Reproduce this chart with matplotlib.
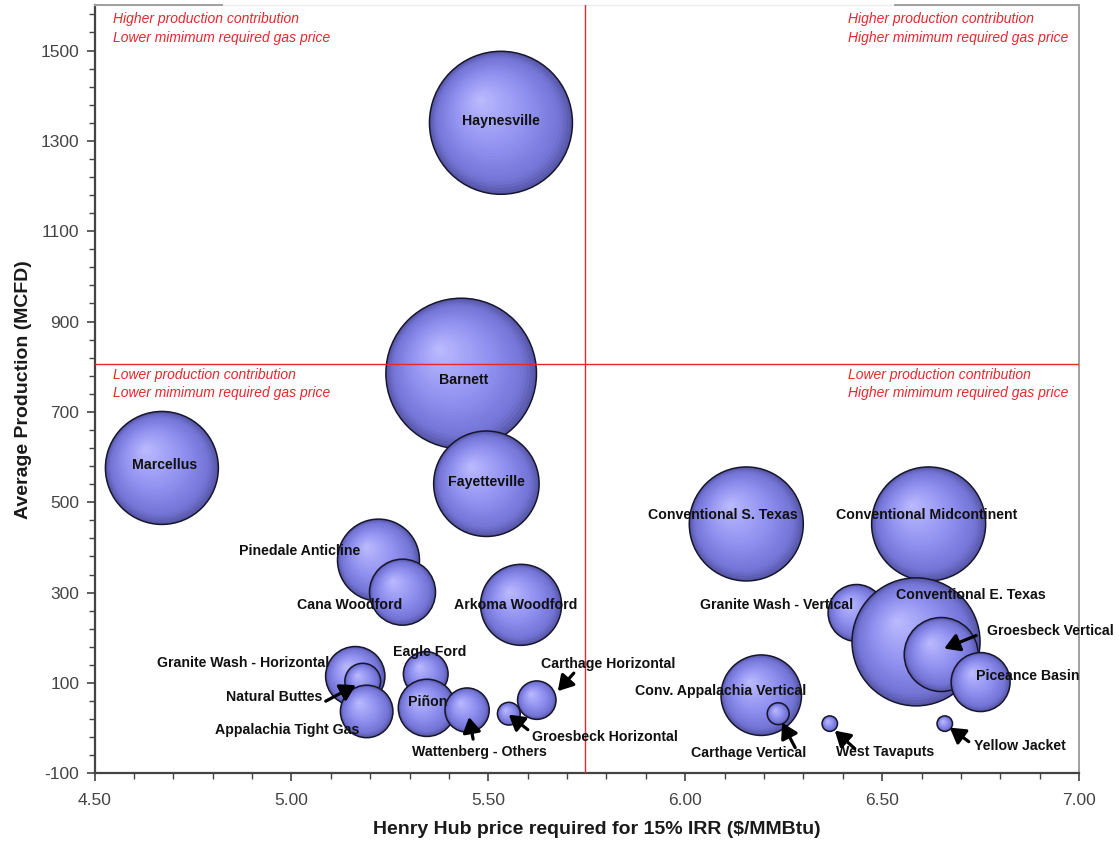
import numpy as np
import matplotlib
matplotlib.use("Agg")
import matplotlib.pyplot as plt
from matplotlib.colors import LinearSegmentedColormap
from matplotlib.ticker import FixedLocator, MultipleLocator, FormatStrFormatter
from matplotlib.transforms import offset_copy

plt.rcParams['font.family'] = ['Liberation Sans', 'DejaVu Sans']
plt.rcParams['axes.unicode_minus'] = False

# data: play name, gas price needed for 15% IRR, average production, bubble weight (area)
plays = ['Haynesville', 'Barnett', 'Fayetteville', 'Marcellus', 'Pinedale Anticline',
         'Cana Woodford', 'Arkoma Woodford', 'Conventional S. Texas',
         'Conventional Midcontinent', 'Granite Wash - Vertical', 'Conventional E. Texas',
         'Groesbeck Vertical', 'Piceance Basin', 'Conv. Appalachia Vertical',
         'Carthage Vertical', 'West Tavaputs', 'Yellow Jacket', 'Granite Wash - Horizontal',
         'Natural Buttes', 'Appalachia Tight Gas', 'Eagle Ford', 'Piñon',
         'Wattenberg - Others', 'Groesbeck Horizontal', 'Carthage Horizontal']
price = [5.532, 5.431, 5.495, 4.671, 5.221,
         5.282, 5.583, 6.155,
         6.618, 6.435, 6.586,
         6.650, 6.750, 6.193,
         6.236, 6.367, 6.659, 5.162,
         5.181, 5.191, 5.341, 5.344,
         5.446, 5.552, 5.623]
production = [1340, 785, 541, 576, 372,
              301, 273, 452,
              452, 255, 191,
              163, 102, 73,
              32, 10, 10, 115,
              104, 37, 120, 45,
              40, 32, 62]
weight = [51.1, 56.7, 27.8, 31.9, 16.8,
          10.9, 16.4, 32.5,
          32.5, 8.1, 41.0,
          13.7, 8.7, 16.2,
          1.2, 0.6, 0.6, 8.8,
          3.2, 6.9, 5.0, 8.2,
          4.9, 1.3, 3.7]

price_split = 5.745
prod_split = 805

# label placement relative to the bubble centre, in pixels (x right, y down)
label_off = {
    'Haynesville': (0, -2), 'Barnett': (2, 6), 'Fayetteville': (0, -2),
    'Marcellus': (3, -3), 'Pinedale Anticline': (-79, -9), 'Cana Woodford': (-53, 13),
    'Arkoma Woodford': (-5, 0), 'Conventional S. Texas': (-23, -9),
    'Conventional Midcontinent': (-2, -9), 'Granite Wash - Vertical': (-80, -8),
    'Conventional E. Texas': (55, -47), 'Piceance Basin': (47, -6),
    'Conv. Appalachia Vertical': (-41, -4), 'Granite Wash - Horizontal': (-112, -13),
    'Appalachia Tight Gas': (-79, 19), 'Eagle Ford': (4, -22), 'Piñon': (1, -6),
    'Groesbeck Vertical': (109, -24), 'Carthage Vertical': (-30, 39),
    'West Tavaputs': (55, 28), 'Yellow Jacket': (75, 22), 'Natural Buttes': (-89, 16),
    'Wattenberg - Others': (12, 42), 'Groesbeck Horizontal': (96, 23),
    'Carthage Horizontal': (71, -36),
}
# arrows: (tip offset, start offset) in pixels
arrow_off = {
    'Groesbeck Vertical': ((3, -6), (35, -19)),
    'Carthage Vertical': ((4, 9), (17, 34)),
    'West Tavaputs': ((5, 7), (25, 25)),
    'Yellow Jacket': ((5, 4), (24, 18)),
    'Natural Buttes': ((-7, 4), (-37, 20)),
    'Wattenberg - Others': ((2, 7), (6, 29)),
    'Groesbeck Horizontal': ((0, 1), (19, 16)),
    'Carthage Horizontal': ((21, -9), (37, -27)),
}

sphere_cmap = LinearSegmentedColormap.from_list(
    'sphere', [(0, '#5858aa'), (0.12, '#7474d6'), (0.45, '#9090f0'), (1, '#bcbcff')])

fig = plt.figure(figsize=(11.19, 8.46), dpi=100)
ax = fig.add_axes([0.0845, 0.0859, 0.8798, 0.9078])


def draw_bubble(x, y, r):
    n = 30
    hx, hy = -0.3 * r, 0.33 * r
    for k in range(n):
        t = k / n
        rk = r * (1 - t)
        tr = offset_copy(ax.transData, fig=fig, x=hx * t, y=hy * t, units='dots')
        ax.scatter([x], [y], s=(2 * rk * 0.72) ** 2, color=sphere_cmap(t),
                   edgecolors='none', transform=tr, zorder=2)
    ax.scatter([x], [y], s=(2 * r * 0.72) ** 2, facecolors='none',
               edgecolors='#16162c', linewidths=1.1, zorder=2)


for name, x, y, w in zip(plays, price, production, weight):
    draw_bubble(x, y, 10 * np.sqrt(w))

for name, x, y in zip(plays, price, production):
    dx, dy = label_off[name]
    ax.annotate(name, xy=(x, y), xytext=(dx, -dy), textcoords='offset pixels',
                ha='center', va='center', fontsize=10.2, fontweight='bold',
                color='#111111', zorder=6)
    if name in arrow_off:
        (tx, ty), (sx, sy) = arrow_off[name]
        tip = offset_copy(ax.transData, fig=fig, x=tx, y=-ty, units='dots')
        ax.annotate('', xy=(x, y), xycoords=tip, xytext=(sx - tx, -(sy - ty)),
                    textcoords='offset pixels',
                    arrowprops=dict(arrowstyle='-|>,head_length=0.5,head_width=0.3',
                                    color='black', lw=2.3, shrinkA=0, shrinkB=0,
                                    mutation_scale=18), zorder=6)

ax.axvline(price_split, color='#e8262e', lw=1.0, zorder=5)
ax.axhline(prod_split, color='#e8262e', lw=1.0, zorder=5)

red = '#e8262e'
quad = dict(fontsize=10, style='italic', color=red, va='center', transform=ax.transAxes)
ax.text(0.0185, 0.982, 'Higher production contribution', **quad)
ax.text(0.0185, 0.958, 'Lower mimimum required gas price', **quad)
ax.text(0.7657, 0.982, 'Higher production contribution', **quad)
ax.text(0.7657, 0.958, 'Higher mimimum required gas price', **quad)
ax.text(0.0185, 0.519, 'Lower production contribution', **quad)
ax.text(0.0185, 0.495, 'Lower mimimum required gas price', **quad)
ax.text(0.7657, 0.519, 'Lower production contribution', **quad)
ax.text(0.7657, 0.495, 'Higher mimimum required gas price', **quad)

ax.set_xlim(4.5, 7.0)
ax.set_ylim(-100, 1600)
ax.set_xticks(np.arange(4.5, 7.01, 0.5))
ax.xaxis.set_major_formatter(FormatStrFormatter('%.2f'))
ax.xaxis.set_minor_locator(MultipleLocator(0.1))
ax.set_yticks(np.arange(-100, 1501, 200))
ax.yaxis.set_minor_locator(FixedLocator(np.arange(-100, 1601, 40)))
ax.tick_params(which='major', length=6, width=1.2, color='#444444',
               labelsize=12.5, labelcolor='#444444', pad=5)
ax.tick_params(which='minor', length=4, width=1.0, color='#444444')
ax.tick_params(axis='x', which='major', pad=8)

for side in ['left', 'bottom']:
    ax.spines[side].set_color('#444444')
    ax.spines[side].set_linewidth(1.6)
ax.spines['right'].set_color('#a0a0a0')
ax.spines['right'].set_linewidth(1.4)
ax.spines['top'].set_color('#ececec')
ax.spines['top'].set_linewidth(1.0)
ax.plot([0, 0.1295], [1, 1], transform=ax.transAxes, clip_on=False,
        color='#a0a0a0', lw=1.4, zorder=7)
ax.plot([0.813, 1], [1, 1], transform=ax.transAxes, clip_on=False,
        color='#a0a0a0', lw=1.4, zorder=7)

ax.set_xlabel('Henry Hub price required for 15% IRR ($/MMBtu)', fontsize=14,
              fontweight='bold', color='#1a1a1a', va='center')
ax.xaxis.set_label_coords(0.51, -0.0725)
ax.set_ylabel('Average Production (MCFD)', fontsize=14, fontweight='bold',
              color='#1a1a1a', va='center')
ax.yaxis.set_label_coords(-0.0725, 0.5)

fig.savefig('out.png', dpi=100)
